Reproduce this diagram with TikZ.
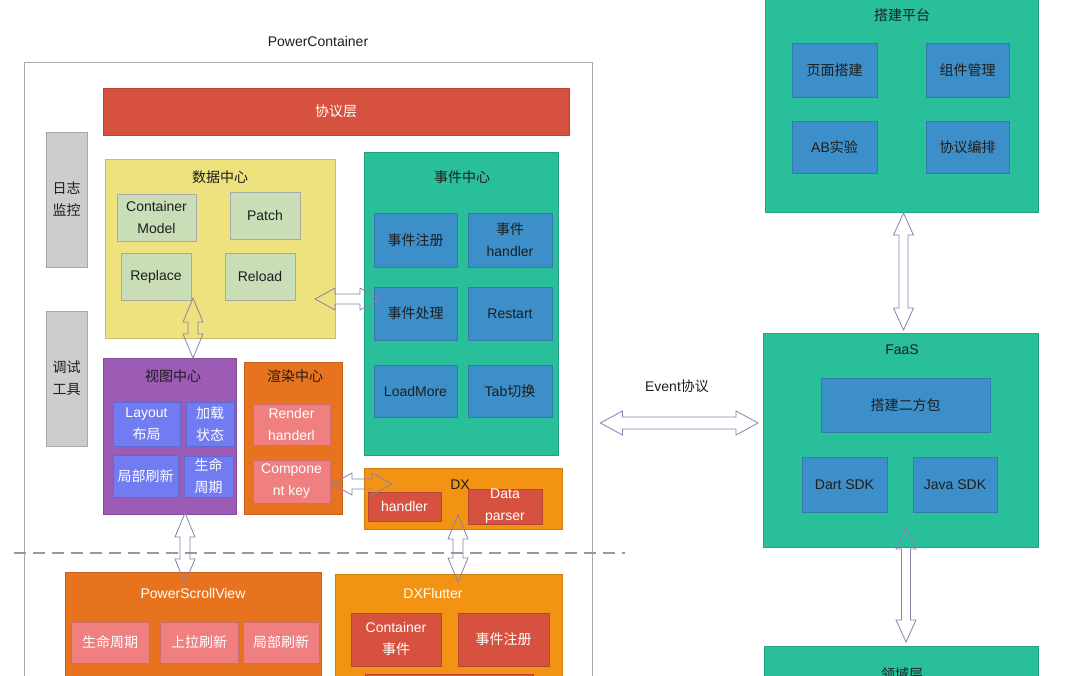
\documentclass[tikz,border=0pt]{standalone}
\usepackage{fontspec}
\setmainfont{Liberation Sans}
\newfontfamily\zh{Noto Sans CJK SC}
\usetikzlibrary{calc}
\newcommand\zt[1]{{\zh #1}}
\definecolor{cTeal}{HTML}{2ABF9B}
\definecolor{cBlue}{HTML}{3D8FC9}
\definecolor{cYellow}{HTML}{EDE27E}
\definecolor{cGreen}{HTML}{C9DDB6}
\definecolor{cRed}{HTML}{D6513F}
\definecolor{cGray}{HTML}{CDCDCD}
\definecolor{cPurple}{HTML}{9C5BB5}
\definecolor{cViolet}{HTML}{717BF2}
\definecolor{cOrange}{HTML}{E8731F}
\definecolor{cPink}{HTML}{F08080}
\definecolor{cAmber}{HTML}{F39313}
\definecolor{cArrow}{HTML}{8A80AE}
\definecolor{cDash}{HTML}{9A9A9A}
\definecolor{cText}{HTML}{1E1E1E}
\definecolor{cBorder}{HTML}{A8A8A8}
\tikzset{
  box/.style={draw=#1!85!black, fill=#1, line width=0.5pt, inner sep=0pt, outer sep=0pt},
  sz/.style 2 args={minimum width=#1pt, minimum height=#2pt},
  lbl/.style={text=cText, align=center, inner sep=0pt, font=\fontsize{14}{22}\selectfont},
  wlbl/.style={lbl, text=white},
  adim/.code n args={3}{\def\ahl{#1}\def\ahw{#2}\def\asw{#3}},
  arr/.style={draw=cArrow, line width=0.8pt, line join=miter},
  hdbl/.style={arr, to path={let \p1=(\tikztostart), \p2=(\tikztotarget) in
     (\x1,\y1) -- (\x1+\ahl,\y1+\ahw) -- (\x1+\ahl,\y1+\asw) -- (\x2-\ahl,\y1+\asw)
     -- (\x2-\ahl,\y1+\ahw) -- (\x2,\y1) -- (\x2-\ahl,\y1-\ahw) -- (\x2-\ahl,\y1-\asw)
     -- (\x1+\ahl,\y1-\asw) -- (\x1+\ahl,\y1-\ahw) -- cycle}},
  vdbl/.style={arr, to path={let \p1=(\tikztostart), \p2=(\tikztotarget) in
     (\x1,\y1) -- (\x1+\ahw,\y1-\ahl) -- (\x1+\asw,\y1-\ahl) -- (\x1+\asw,\y2+\ahl)
     -- (\x1+\ahw,\y2+\ahl) -- (\x1,\y2) -- (\x1-\ahw,\y2+\ahl) -- (\x1-\asw,\y2+\ahl)
     -- (\x1-\asw,\y1-\ahl) -- (\x1-\ahw,\y1-\ahl) -- cycle}},
  dashline/.style={draw=cDash, line width=2pt, dash pattern=on 12pt off 7pt},
}
\begin{document}
\begin{tikzpicture}[x=1pt,y=-1pt]
\useasboundingbox (0,0) rectangle (1083,676);
\clip (0,0) rectangle (1083,676);
\fill[white] (0,0) rectangle (1083,676);

% ---------- PowerContainer ----------
\node[draw=cBorder, line width=0.8pt, sz={568}{660}, inner sep=0pt] (pc) at (308,392) {};
\node[lbl] (pcT) at (318,41) {PowerContainer};
\node[box=cRed, sz={466}{47}, wlbl] (proto) at (336,111.5) {\zt{协议层}};
\node[box=cGray, draw=cBorder, sz={41}{135}, lbl] (log) at (66.5,199.5) {\zt{日志}\\\zt{监控}};
\node[box=cGray, draw=cBorder, sz={41}{135}, lbl] (dbg) at (66.5,378.5) {\zt{调试}\\\zt{工具}};

% data center
\node[box=cYellow, sz={230}{179}] (data) at (220,248.5) {};
\node[lbl] (dataT) at (220,177) {\zt{数据中心}};
\node[box=cGreen, draw=cBorder, sz={79}{47}, lbl] (cm) at (156.5,217.5) {Container\\Model};
\node[box=cGreen, draw=cBorder, sz={70}{47}, lbl] (patch) at (265,215.5) {Patch};
\node[box=cGreen, draw=cBorder, sz={70}{47}, lbl] (replace) at (156,276.5) {Replace};
\node[box=cGreen, draw=cBorder, sz={70}{47}, lbl] (reload) at (260,276.5) {Reload};

% event center
\node[box=cTeal, sz={194}{303}] (event) at (461,303.5) {};
\node[lbl] (eventT) at (462,177) {\zt{事件中心}};
\node[box=cBlue, sz={83}{54}, lbl] (e1) at (415.5,240) {\zt{事件注册}};
\node[box=cBlue, sz={84}{54}, lbl] (e2) at (510,240) {\zt{事件}\\handler};
\node[box=cBlue, sz={83}{53}, lbl] (e3) at (415.5,313.5) {\zt{事件处理}};
\node[box=cBlue, sz={84}{53}, lbl] (e4) at (510,313.5) {Restart};
\node[box=cBlue, sz={83}{52}, lbl] (e5) at (415.5,391) {LoadMore};
\node[box=cBlue, sz={84}{52}, lbl] (e6) at (510,391) {Tab\zt{切换}};

% view center
\node[box=cPurple, sz={133}{156}] (view) at (169.5,436) {};
\node[lbl] (viewT) at (173,376) {\zt{视图中心}};
\node[box=cViolet, sz={67}{44}, wlbl] (v1) at (146.5,424) {Layout\\\zt{布局}};
\node[box=cViolet, sz={48}{44}, wlbl] (v2) at (210,424) {\zt{加载}\\\zt{状态}};
\node[box=cViolet, sz={65}{42}, wlbl] (v3) at (145.5,476) {\zt{局部刷新}};
\node[box=cViolet, sz={49}{41}, wlbl] (v4) at (208.5,476.5) {\zt{生命}\\\zt{周期}};

% render center
\node[box=cOrange, sz={98}{152}] (render) at (293,438) {};
\node[lbl] (renderT) at (295,376) {\zt{渲染中心}};
\node[box=cPink, sz={77}{41}, wlbl] (r1) at (291.5,424.5) {Render\\handerl};
\node[box=cPink, sz={77}{43}, wlbl] (r2) at (291.5,481.5) {Compone\\nt key};

% DX
\node[box=cAmber, sz={198}{61}] (dx) at (463,498.5) {};
\node[lbl] (dxT) at (460,485) {DX};
\node[box=cRed, sz={73}{29}, wlbl] (dx1) at (404.5,506.5) {handler};
\node[box=cRed, sz={74}{29}, wlbl] (dx2) at (505,506.5) {Data\\parser};

% PowerScrollView
\node[box=cOrange, sz={256}{128}] (psv) at (193,636) {};
\node[wlbl] (psvT) at (193,593) {PowerScrollView};
\node[box=cPink, sz={78}{41}, wlbl] (p1) at (110,642.5) {\zt{生命周期}};
\node[box=cPink, sz={78}{41}, wlbl] (p2) at (199,642.5) {\zt{上拉刷新}};
\node[box=cPink, sz={76}{41}, wlbl] (p3) at (281,642.5) {\zt{局部刷新}};

% DXFlutter
\node[box=cAmber, sz={227}{126}] (dxf) at (448.5,637) {};
\node[wlbl] (dxfT) at (433,593) {DXFlutter};
\node[box=cRed, sz={90}{53}, wlbl] (f1) at (396,639.5) {Container\\\zt{事件}};
\node[box=cRed, sz={91}{53}, wlbl] (f2) at (503.5,639.5) {\zt{事件注册}};
\node[box=cRed, sz={168}{26}] (f3) at (449,687) {};

% ---------- right column ----------
\node[box=cTeal, sz={273}{222}] (plat) at (901.5,101) {};
\node[lbl] (platT) at (902,15) {\zt{搭建平台}};
\node[box=cBlue, sz={85}{54}, lbl] (b1) at (834.5,70) {\zt{页面搭建}};
\node[box=cBlue, sz={83}{54}, lbl] (b2) at (967.5,70) {\zt{组件管理}};
\node[box=cBlue, sz={85}{52}, lbl] (b3) at (834.5,147) {AB\zt{实验}};
\node[box=cBlue, sz={83}{52}, lbl] (b4) at (967.5,147) {\zt{协议编排}};

\node[box=cTeal, sz={275}{214}] (faas) at (900.5,440) {};
\node[lbl] (faasT) at (902,350) {FaaS};
\node[box=cBlue, sz={169}{54}, lbl] (s1) at (905.5,405) {\zt{搭建二方包}};
\node[box=cBlue, sz={85}{55}, lbl] (s2) at (844.5,484.5) {Dart SDK};
\node[box=cBlue, sz={84}{55}, lbl] (s3) at (955,484.5) {Java SDK};

\node[box=cTeal, sz={274}{74}] (domain) at (901,683) {};
\node[lbl] (domainT) at (902,674) {\zt{领域层}};

\node[lbl] (evT) at (677,386) {Event\zt{协议}};

% ---------- dashed separator ----------
\draw[dashline] (14,553) -- (625,553);

% ---------- arrows ----------
\draw[vdbl, adim={22pt}{10pt}{4.5pt}] ([xshift=2pt,yshift=-1pt]plat.south) to ([xshift=2pt,yshift=3pt]faas.north);
\draw[vdbl, adim={22pt}{10pt}{4.5pt}] ([xshift=5.5pt,yshift=20pt]faas.south) to ([xshift=5.5pt,yshift=4pt]domain.north);
\draw[hdbl, adim={22pt}{12pt}{6pt}] ([xshift=8pt,yshift=-31pt]pc.east) to ([xshift=-5pt,yshift=17pt]faas.west);
\draw[hdbl, adim={20pt}{11pt}{5pt}] ([xshift=-20pt,yshift=-50.5pt]data.east) to ([xshift=16pt,yshift=4.5pt]event.west);
\draw[vdbl, adim={24pt}{10pt}{5pt}] ([xshift=-27pt,yshift=40pt]data.south) to ([xshift=23.5pt]view.north);
\draw[vdbl, adim={24pt}{10pt}{5pt}] ([xshift=15.5pt,yshift=1pt]view.south) to ([xshift=-8pt,yshift=-11pt]psv.north);
\draw[hdbl, adim={20pt}{11pt}{5pt}] ([xshift=-10pt,yshift=-46pt]render.east) to ([xshift=28pt,yshift=14.5pt]dx.west);
\draw[vdbl, adim={24pt}{10pt}{5pt}] ([xshift=-5pt,yshift=14pt]dx.south) to ([xshift=9.5pt,yshift=-8pt]dxf.north);
\end{tikzpicture}
\end{document}
